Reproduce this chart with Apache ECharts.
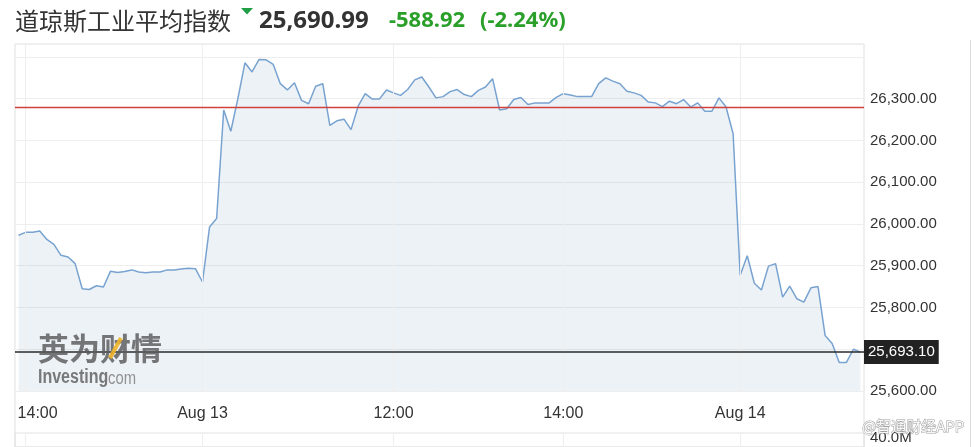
<!DOCTYPE html>
<html><head><meta charset="utf-8">
<script src="https://cdn.jsdelivr.net/npm/echarts@6/dist/echarts.min.js"></script>
<style>html,body{margin:0;padding:0;background:#fff}#c{width:974px;height:447px}</style>
</head><body><div id="c"></div>
<script>
// ---- data ----
const titleText = '道琼斯工业平均指数';
const lastPriceText = '25,690.99';
const changeText = '-588.92';
const changePctText = '(-2.24%)';
const prevClose = 26279.91;
const lastValue = 25693.10;
const volumeLabel = '40.0M';
// trading sessions: [day, first bar time, number of 5-minute bars]
const sessions = [['Aug 12', '13:55', 26], ['Aug 13', '09:45', 76], ['Aug 14', '09:45', 18]];
const values = [
  25973, 25980, 25980, 25983, 25963, 25951, 25925, 25921, 25905, 25845,
  25843, 25852, 25849, 25887, 25884, 25886, 25890, 25885, 25883, 25885,
  25885, 25890, 25890, 25892, 25894, 25893, 25861, 25993, 26013, 26273,
  26222, 26300, 26386, 26364, 26394, 26393, 26382, 26336, 26321, 26338,
  26296, 26288, 26330, 26336, 26236, 26247, 26251, 26226, 26282, 26312,
  26299, 26299, 26321, 26314, 26308, 26322, 26345, 26352, 26328, 26302,
  26305, 26317, 26322, 26310, 26305, 26320, 26328, 26348, 26273, 26276,
  26298, 26303, 26286, 26290, 26290, 26290, 26303, 26312, 26309, 26305,
  26305, 26305, 26336, 26350, 26342, 26336, 26318, 26314, 26308, 26292,
  26290, 26281, 26294, 26288, 26298, 26280, 26290, 26270, 26270, 26302,
  26280, 26216, 25877, 25924, 25858, 25842, 25899, 25905, 25825, 25851,
  25821, 25813, 25847, 25850, 25733, 25714, 25668, 25668, 25700, 25693.10
];
const xTickIndex = [1, 26, 53, 77, 102];
const xTickText = ['14:00', 'Aug 13', '12:00', '14:00', 'Aug 14'];

// ---- build categories ----
const categories = [];
sessions.forEach(([day, start, n]) => {
  const [h, m] = start.split(':').map(Number);
  for (let i = 0; i < n; i++) {
    const t = h * 60 + m + 5 * i;
    categories.push(day + ' ' + String(Math.floor(t / 60)).padStart(2, '0') + ':' + String(t % 60).padStart(2, '0'));
  }
});
function fmt2(v) {
  return v.toLocaleString('en-US', {minimumFractionDigits: 2, maximumFractionDigits: 2});
}

const chart = echarts.init(document.getElementById('c'), null, {renderer: 'canvas'});
const green = '#2aa02a';
const option = {
  animation: false,
  textStyle: {fontFamily: 'Arial'},
  grid: [
    {left: 15, right: 110, top: 44, bottom: 56, show: false},
    {left: 15, right: 110, top: 44, bottom: -10, show: true, borderColor: '#e0e0e0', borderWidth: 1, backgroundColor: 'transparent'},
    {left: 15, right: 110, top: 433, bottom: -10, show: true, borderColor: '#e2e2e2', borderWidth: 1, backgroundColor: 'transparent'}
  ],
  xAxis: [
    {
      type: 'category', gridIndex: 0, data: categories, boundaryGap: true,
      axisLine: {show: false}, axisTick: {show: false}, splitLine: {show: false},
      axisLabel: {
        interval: (i) => xTickIndex.includes(i),
        formatter: (v, i) => {
          const k = xTickIndex.indexOf(i);
          if (k < 0) return '';
          return k === 0 ? '{first|' + xTickText[k] + '}' : xTickText[k];
        },
        color: '#333', fontSize: 16, margin: 15, fontFamily: 'Arial',
        rich: {first: {padding: [0, 0, 0, 24], fontSize: 16, color: '#333', fontFamily: 'Arial'}}
      }
    },
    {type: 'category', gridIndex: 1, data: categories, show: false},
    {type: 'category', gridIndex: 2, data: categories, show: false, boundaryGap: true}
  ],
  yAxis: [
    {
      type: 'value', gridIndex: 0, position: 'right', min: 25600, max: 26431, interval: 100,
      axisLine: {show: false}, axisTick: {show: false},
      splitLine: {show: true, lineStyle: {color: '#eeeeee', width: 1}},
      axisLabel: {
        margin: 6, fontSize: 15, color: '#333', fontFamily: 'Arial',
        formatter: (v) => (Math.abs(v % 100) < 1e-6 && v < 26400) ? fmt2(v) : ''
      }
    },
    {type: 'value', gridIndex: 1, show: false},
    {type: 'value', gridIndex: 2, show: false}
  ],
  series: [
    {
      name: 'gridV', type: 'line', xAxisIndex: 0, yAxisIndex: 0, data: [], z: 1, silent: true,
      markLine: {
        silent: true, symbol: ['none', 'none'], label: {show: false},
        lineStyle: {color: '#eeeeee', width: 1, type: 'solid'},
        data: xTickIndex.map(i => ({xAxis: i}))
      }
    },
    {
      name: 'gridV2', type: 'line', xAxisIndex: 2, yAxisIndex: 2, data: [], z: 1, silent: true,
      markLine: {
        silent: true, symbol: ['none', 'none'], label: {show: false},
        lineStyle: {color: '#eeeeee', width: 1, type: 'solid'},
        data: xTickIndex.map(i => ({xAxis: i}))
      }
    },
    {
      name: 'DJIA', type: 'line', xAxisIndex: 0, yAxisIndex: 0, data: values,
      symbol: 'none', z: 2,
      lineStyle: {color: '#78a3d0', width: 1.5},
      areaStyle: {color: 'rgba(50,110,170,0.13)', origin: 'start'}
    },
    {
      name: 'refs', type: 'line', xAxisIndex: 0, yAxisIndex: 0, data: [], z: 20, silent: true,
      markLine: {
        silent: true, symbol: ['none', 'none'],
        data: [
          {yAxis: prevClose, lineStyle: {color: '#d0403c', width: 1.3, type: 'solid'}, label: {show: false}},
          {
            yAxis: lastValue, lineStyle: {color: '#2a2a2a', width: 1.5, type: 'solid'},
            label: {
              show: true, position: 'end', distance: 0, formatter: fmt2(lastValue),
              color: '#fff', backgroundColor: '#222', padding: [5, 4, 4, 4], fontSize: 15, fontFamily: 'Arial'
            }
          }
        ]
      }
    }
  ],
  graphic: [
    {type: 'text', x: 15, y: 21, z: 10, style: {text: titleText, font: '24px "Noto Sans CJK SC"', fill: '#333', verticalAlign: 'middle', textVerticalAlign: 'middle'}},
    {type: 'polygon', z: 10, shape: {points: [[241, 8], [253, 8], [247, 14.5]]}, style: {fill: '#1f9e45'}},
    {type: 'text', x: 259, y: 21, z: 10, style: {text: lastPriceText, font: 'bold 24px "Noto Sans"', fill: '#333', verticalAlign: 'middle', textVerticalAlign: 'middle'}},
    {type: 'text', x: 389, y: 21, z: 10, style: {text: changeText, font: 'bold 22px "Noto Sans"', fill: green, verticalAlign: 'middle', textVerticalAlign: 'middle'}},
    {type: 'text', x: 480, y: 21, z: 10, style: {text: changePctText, font: 'bold 22px "Noto Sans"', fill: green, verticalAlign: 'middle', textVerticalAlign: 'middle'}},
    // watermark
    {type: 'text', x: 38, y: 348, z: 10, style: {text: '英为财情', font: 'bold 31px "Noto Sans CJK SC"', fill: 'rgba(90,90,90,0.82)', verticalAlign: 'middle', textVerticalAlign: 'middle'}},
    {type: 'line', z: 11, shape: {x1: 121, y1: 338, x2: 110, y2: 358}, style: {stroke: 'rgba(240,180,40,0.9)', lineWidth: 4}},
    {type: 'text', x: 38, y: 377, z: 10, scaleX: 0.8, style: {text: 'Investing', font: 'bold 20px Arial', fill: 'rgba(100,100,100,0.85)', verticalAlign: 'middle', textVerticalAlign: 'middle'}},
    {type: 'text', x: 104, y: 379, z: 10, scaleX: 0.78, style: {text: '.com', font: '19px Arial', fill: 'rgba(120,120,120,0.8)', verticalAlign: 'middle', textVerticalAlign: 'middle'}},
    // right separator
    {type: 'line', z: 10, shape: {x1: 970.5, y1: 40, x2: 970.5, y2: 447}, style: {stroke: '#dcdcdc', lineWidth: 1}},
    {type: 'text', x: 870, y: 438, z: 10, style: {text: volumeLabel, font: '15px Arial', fill: '#333', verticalAlign: 'middle', textVerticalAlign: 'middle'}},
    {type: 'text', x: 862, y: 426, z: 12, style: {text: '@智通财经APP', font: '15px "Noto Sans CJK SC"', fill: 'rgba(255,255,255,0.9)', stroke: '#a0a0a0', lineWidth: 1, verticalAlign: 'middle', textVerticalAlign: 'middle'}}
  ]
};
chart.setOption(option);
</script>
</body></html>
